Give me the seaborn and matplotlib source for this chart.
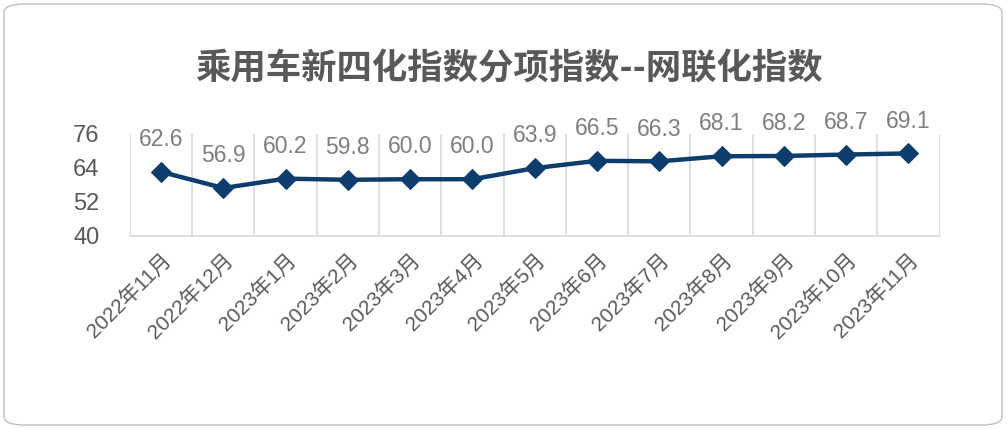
import matplotlib
matplotlib.use("Agg")
import matplotlib.pyplot as plt
from matplotlib.patches import FancyBboxPatch
import pandas as pd
import seaborn as sns

# Datos
meses = ["2022年11月", "2022年12月", "2023年1月", "2023年2月", "2023年3月",
         "2023年4月", "2023年5月", "2023年6月", "2023年7月", "2023年8月",
         "2023年9月", "2023年10月", "2023年11月"]
indice = [62.6, 56.9, 60.2, 59.8, 60.0, 60.0, 63.9, 66.5, 66.3, 68.1, 68.2, 68.7, 69.1]
y_ticks = [40, 52, 64, 76]
titulo = "乘用车新四化指数分项指数--网联化指数"

df = pd.DataFrame({"mes": meses, "valor": indice})
df["pos"] = range(len(df))

sns.set_theme(style="white")
plt.rcParams["font.family"] = ["Liberation Sans", "Noto Sans CJK SC", "DejaVu Sans"]

gris = "#595959"
azul = "#0D3D6C"

fig = plt.figure(figsize=(10.07, 4.29), dpi=100)
ax = fig.add_axes([0.129, 0.450, 0.804, 0.238])

# Marco redondeado
marco = FancyBboxPatch((4 / 1007, 4 / 429), 998 / 1007, 421 / 429,
                       boxstyle="round,pad=0,rounding_size=0.02",
                       transform=fig.transFigure, facecolor="white",
                       edgecolor="#BFBFBF", linewidth=1.0, zorder=-10)
fig.patches.append(marco)

# Lineas verticales entre categorias
for x in range(len(meses) + 1):
    ax.axvline(x - 0.5, color="#D9D9D9", linewidth=1.2, zorder=0)

sns.lineplot(data=df, x="pos", y="valor", ax=ax, color=azul, linewidth=3.2,
             marker="D", markersize=10, markeredgecolor=azul, zorder=3)

for x, v in zip(df["pos"], df["valor"]):
    ax.annotate(f"{v:.1f}", (x, v), xytext=(0, 15), textcoords="offset points",
                ha="center", va="bottom", fontsize=16.5, color="#7F7F7F")

ax.set_xlim(-0.5, len(meses) - 0.5)
ax.set_ylim(40, 76)
ax.set_yticks(y_ticks)
ax.set_xticks(df["pos"])
ax.set_xticklabels(meses, rotation=45, ha="right", rotation_mode="anchor",
                   fontsize=15, color=gris)
ax.tick_params(axis="y", length=0, pad=22, labelsize=17, labelcolor=gris)
ax.tick_params(axis="x", length=0, pad=10)
ax.set_xlabel("")
ax.set_ylabel("")
for s in ["top", "right", "left"]:
    ax.spines[s].set_visible(False)
ax.spines["bottom"].set_color("#D9D9D9")
ax.spines["bottom"].set_linewidth(1.2)
ax.set_facecolor("none")

fig.text(0.505, 0.84, titulo, ha="center", va="center", fontsize=25.5,
         fontweight="bold", color=gris, family=["Noto Sans CJK SC", "DejaVu Sans"])

fig.savefig("out.png", dpi=100)
